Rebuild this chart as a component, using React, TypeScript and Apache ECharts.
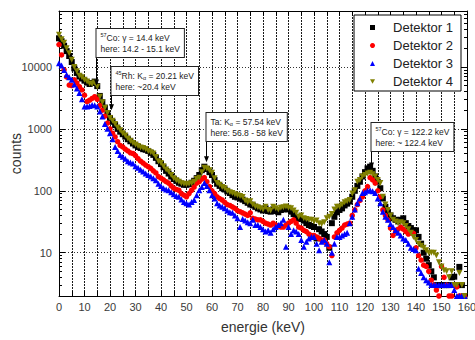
import React, { useEffect, useRef } from 'react';
import * as echarts from 'echarts';

// energy bins (keV), one per index 0..159
const binStart = 0;
const binWidth = 1;

const seriesNames = ['Detektor 1', 'Detektor 2', 'Detektor 3', 'Detektor 4'];

const det1 = [
  29000, 26000, 22000, 18000, 15000, 12000, 9500, 8000, 7000, 6500,
  6000, 5600, 5300, 5500, 5800, 4900, 3400, 2700, 2200, 1800,
  1500, 1300, 1150, 1000, 900, 820, 750, 680, 630, 580,
  540, 510, 490, 470, 460, 440, 410, 380, 340, 300,
  270, 240, 210, 190, 170, 155, 145, 135, 130, 125,
  125, 128, 135, 145, 160, 180, 215, 245, 225, 200,
  180, 150, 130, 120, 110, 105, 98, 92, 85, 80,
  78, 75, 72, 68, 64, 60, 58, 55, 52, 50,
  48, 52, 47, 46, 50, 47, 45, 49, 50, 53,
  50, 46, 42, 38, 36, 35, 33, 30, 28, 27,
  26, 17, 24, 22, 20, 18, 12, 30, 38, 45,
  49, 52, 58, 62, 67, 80, 100, 120, 140, 170,
  200, 230, 245, 210, 170, 140, 110, 75, 55, 45,
  40, 36, 34, 32, 34, 36, 30, 27, 25, 23,
  23, 18, 14, 10, 8, 6.3, 5, 4, 3, 3,
  3, 3, 3, 3, 4, 4.1, 3, 5.9, 3, 2,
];

const det2 = [
  23000, 15600, 9000, 6900, 5100, 5000, 6200, 5500, 4800, 4250,
  3500, 2760, 2900, 3100, 3300, 3000, 2400, 2000, 1600, 1240,
  1000, 850, 740, 620, 540, 510, 470, 440, 410, 400,
  370, 330, 300, 280, 260, 245, 230, 210, 194, 170,
  160, 150, 140, 133, 120, 110, 105, 102, 90, 85,
  80, 90, 102, 115, 133, 140, 155, 163, 140, 117,
  100, 90, 80, 75, 71, 65, 60, 58, 55, 52,
  48, 46, 44, 42, 40, 44, 36, 35, 34, 34,
  32, 30, 29, 28, 30, 28, 27, 26, 26, 28,
  30, 32, 34, 30, 26, 25, 23, 22, 20, 19,
  19, 18, 17, 16, 16, 14, 12.5, 9, 18, 21,
  23, 25, 28, 29, 30, 40, 49, 60, 70, 80,
  100, 117, 163, 150, 133, 100, 80, 49, 40, 34,
  25, 19, 22, 24, 26, 24, 22, 20, 21, 20.6,
  12, 9, 7.6, 6.3, 6, 5, 3.6, 3, 2.5, 2,
  6, 4, 3, 2, 2, 3, 2.8, 2, 2, 2,
];

const det3 = [
  11500, 10500, 8900, 7500, 6800, 6200, 5200, 4500, 3800, 3000,
  2300, 2300, 2350, 2430, 2400, 2300, 1900, 1580, 1200, 1000,
  850, 680, 510, 440, 380, 355, 330, 300, 285, 275,
  250, 235, 218, 205, 190, 180, 170, 160, 148, 130,
  120, 110, 105, 102, 95, 88, 82, 80, 72, 66,
  63, 60, 66, 71, 85, 102, 115, 133, 120, 102,
  85, 75, 63, 58, 55, 52, 48, 45, 44, 40,
  36, 26, 35, 33, 31, 30, 34, 28, 28, 26,
  24, 22, 23, 21, 24, 26, 28, 30, 34, 12.5,
  26, 20, 23, 22, 20, 16, 12.5, 15, 17, 18,
  18, 14, 11, 15, 16, 14, 7, 10, 14, 18,
  18, 19, 20, 21, 30, 38, 50, 63, 75, 92,
  95, 100, 102, 98, 92, 75, 63, 46, 38, 34,
  29, 26, 23, 21, 19, 17, 16, 14, 12, 11.5,
  11, 5.5, 4.7, 4, 3.6, 3.3, 3, 3, 3, 3,
  3, 3, 3, 3, 3, 2.5, 2, 2, 2, 2,
];

const det4 = [
  33000, 28000, 24500, 20000, 16600, 13000, 10000, 8500, 7200, 6800,
  6200, 5800, 5400, 5300, 5600, 4800, 3300, 2700, 2200, 1800,
  1500, 1350, 1200, 1050, 950, 850, 780, 700, 640, 590,
  560, 530, 500, 490, 470, 440, 420, 400, 350, 300,
  280, 250, 220, 205, 180, 160, 148, 140, 132, 130,
  128, 130, 132, 140, 155, 163, 200, 235, 230, 215,
  195, 160, 134, 125, 115, 110, 100, 95, 92, 88,
  85, 82, 79, 70, 65, 68, 60, 56, 54, 52,
  50, 55, 49, 48, 55, 52, 50, 53, 54, 56,
  53, 52, 48, 44, 38, 40, 36, 35, 34, 34,
  32, 33, 30, 29, 31, 36, 38, 42, 50, 55,
  55, 60, 65, 68, 71, 90, 102, 140, 150, 170,
  180, 190, 195, 185, 170, 150, 133, 80, 60, 49,
  40, 34, 32, 30, 31, 30, 27, 24, 21, 18,
  16, 14, 13, 12, 11, 10, 10, 10, 9, 7,
  6, 5.2, 5, 4, 5, 3, 3, 4.7, 3, 2,
];

const seriesColors = ['#000000', '#ff0000', '#0000ff', '#808000'];
const seriesSymbols = ['rect', 'circle', 'triangle', 'path://M0,0L10,0L5,9Z'];

const xTickLabels = ['0', '10', '20', '30', '40', '50', '60', '70', '80', '90', '100', '110', '120', '130', '140', '150', '160'];
const yTickLabels = ['10', '100', '1000', '10000'];

// annotations: target energy, count at arrow tip, box top, text lines
const annEnergy = [14.4, 20.21, 57.54, 122.2];
const annTipCount = [5000, 2000, 290, 230];
const annBoxTop = [29, 67, 113, 123];
const annText = [
  '{sup|57}Co: γ = 14.4 keV\nhere: 14.2 - 15.1 keV',
  '{sup|45}Rh: K{sub|α} = 20.21 keV\nhere: ~20.4 keV',
  'Ta: K{sub|α} = 57.54 keV\nhere: 56.8 - 58 keV',
  '{sup|57}Co: γ = 122.2 keV\nhere: ~ 122.4 keV',
];

const FONT = '"Liberation Sans", Arial, Helvetica, sans-serif';

export default function App() {
  const ref = useRef<HTMLDivElement>(null);
  useEffect(() => {
    if (!ref.current) return;
    const chart = echarts.init(ref.current, null, { renderer: 'svg' });
    const all = [det1, det2, det3, det4];
    const vGrid = { color: '#1a1a1a', width: 1, type: [2, 1] as number[] };
    const hGrid = { color: '#333', width: 1, type: [1, 2] as number[] };
    const axisLine = { show: true, onZero: false, lineStyle: { color: '#000', width: 1 } };
    const scatterSeries = all.map((arr, k) => ({
      name: seriesNames[k],
      type: 'scatter',
      xAxisIndex: 0,
      yAxisIndex: 0,
      symbol: seriesSymbols[k],
      symbolSize: k === 1 ? 5.5 : 6,
      itemStyle: { color: seriesColors[k], opacity: 1 },
      data: arr.map((v, i) => [binStart + i * binWidth, v]),
      z: 2 + k,
    }));
    const option: any = {
      animation: false,
      textStyle: { fontFamily: FONT },
      grid: { left: 59, right: 8, top: 11, bottom: 44, containLabel: false, outerBoundsMode: 'none' },
      legend: {
        orient: 'vertical',
        right: 14,
        top: 15,
        backgroundColor: '#fff',
        borderColor: '#000',
        borderWidth: 1,
        borderRadius: 0,
        padding: [6, 8, 3, 16],
        itemGap: 5,
        itemWidth: 5,
        itemHeight: 5,
        textStyle: {
          fontSize: 13, color: '#222', fontFamily: FONT, lineHeight: 13,
          rich: { s: { width: 13, fontSize: 13, lineHeight: 13 } },
        },
        formatter: (name: string) => '{s| }' + name,
        data: seriesNames,
      },
      xAxis: [
        {
          type: 'value', min: 0, max: 160, interval: 10, position: 'bottom',
          axisLine,
          axisTick: { show: true, inside: true, length: 5, lineStyle: { color: '#000' } },
          minorTick: { show: true, splitNumber: 2, length: 5, lineStyle: { color: '#000' } },
          splitLine: { show: true, lineStyle: vGrid },
          minorSplitLine: { show: true, lineStyle: vGrid },
          axisLabel: {
            color: '#3a3a3a', fontSize: 11, margin: 5, fontFamily: FONT,
            formatter: (v: number) => (xTickLabels.includes(String(Math.round(v))) ? String(Math.round(v)) : ''),
          },
          name: 'energie (keV)', nameLocation: 'middle', nameGap: 24, nameMoveOverlap: false,
          nameTextStyle: { fontSize: 14, color: '#333', fontFamily: FONT },
        },
        {
          type: 'value', min: 0, max: 160, interval: 10, position: 'top',
          axisLine,
          axisTick: { show: true, inside: true, length: 5, lineStyle: { color: '#000' } },
          minorTick: { show: true, splitNumber: 2, length: 5, lineStyle: { color: '#000' } },
          splitLine: { show: false },
          axisLabel: { show: false },
        },
      ],
      yAxis: [
        {
          type: 'log', logBase: 10, min: 2, max: 80000, position: 'left',
          axisLine,
          axisTick: { show: true, inside: true, length: 6, lineStyle: { color: '#000' } },
          minorTick: { show: true, splitNumber: 9, length: 3, lineStyle: { color: '#000' } },
          splitLine: { show: true, lineStyle: hGrid },
          axisLabel: {
            color: '#3a3a3a', fontSize: 11, margin: 7, fontFamily: FONT,
            formatter: (v: number) => (yTickLabels.includes(String(Math.round(v))) ? String(Math.round(v)) : ''),
          },
          name: 'counts', nameLocation: 'middle', nameGap: 36, nameMoveOverlap: false,
          nameTextStyle: { fontSize: 14, color: '#333', fontFamily: FONT },
        },
        {
          type: 'log', logBase: 10, min: 2, max: 80000, position: 'right',
          axisLine,
          axisTick: { show: true, inside: true, length: 6, lineStyle: { color: '#000' } },
          minorTick: { show: true, splitNumber: 9, length: 3, lineStyle: { color: '#000' } },
          splitLine: { show: false },
          axisLabel: { show: false },
        },
      ],
      series: scatterSeries,
    };
    chart.setOption(option);

    const graphics: any[] = [];
    annEnergy.forEach((e, i) => {
      const tip = chart.convertToPixel({ xAxisIndex: 0, yAxisIndex: 0 }, [e, annTipCount[i]]) as number[];
      const x = Math.round(tip[0]) + 0.5;
      const top = annBoxTop[i];
      const boxH = 29;
      graphics.push({
        type: 'text',
        x: x,
        y: top,
        z: 100,
        style: {
          text: annText[i],
          fontSize: 8.5,
          fontFamily: FONT,
          fill: '#222',
          lineHeight: 11,
          backgroundColor: '#fff',
          borderColor: '#222',
          borderWidth: 1,
          padding: [3, 4, 3, 4],
          rich: {
            sup: { fontSize: 5.5, fontFamily: FONT, fill: '#222', verticalAlign: 'top', lineHeight: 11 },
            sub: { fontSize: 5.5, fontFamily: FONT, fill: '#222', verticalAlign: 'bottom', lineHeight: 11 },
          },
        },
      });
      graphics.push({
        type: 'line', z: 100,
        shape: { x1: x, y1: top + boxH, x2: x, y2: tip[1] - 4 },
        style: { stroke: '#000', lineWidth: 1 },
      });
      graphics.push({
        type: 'polygon', z: 100,
        shape: { points: [[x - 2.5, tip[1] - 6], [x + 2.5, tip[1] - 6], [x, tip[1]]] },
        style: { fill: '#000' },
      });
    });
    chart.setOption({ graphic: graphics });

    return () => chart.dispose();
  }, []);
  return <div ref={ref} style={{ position: 'absolute', left: 0, top: 0, width: 475, height: 340 }} />;
}
